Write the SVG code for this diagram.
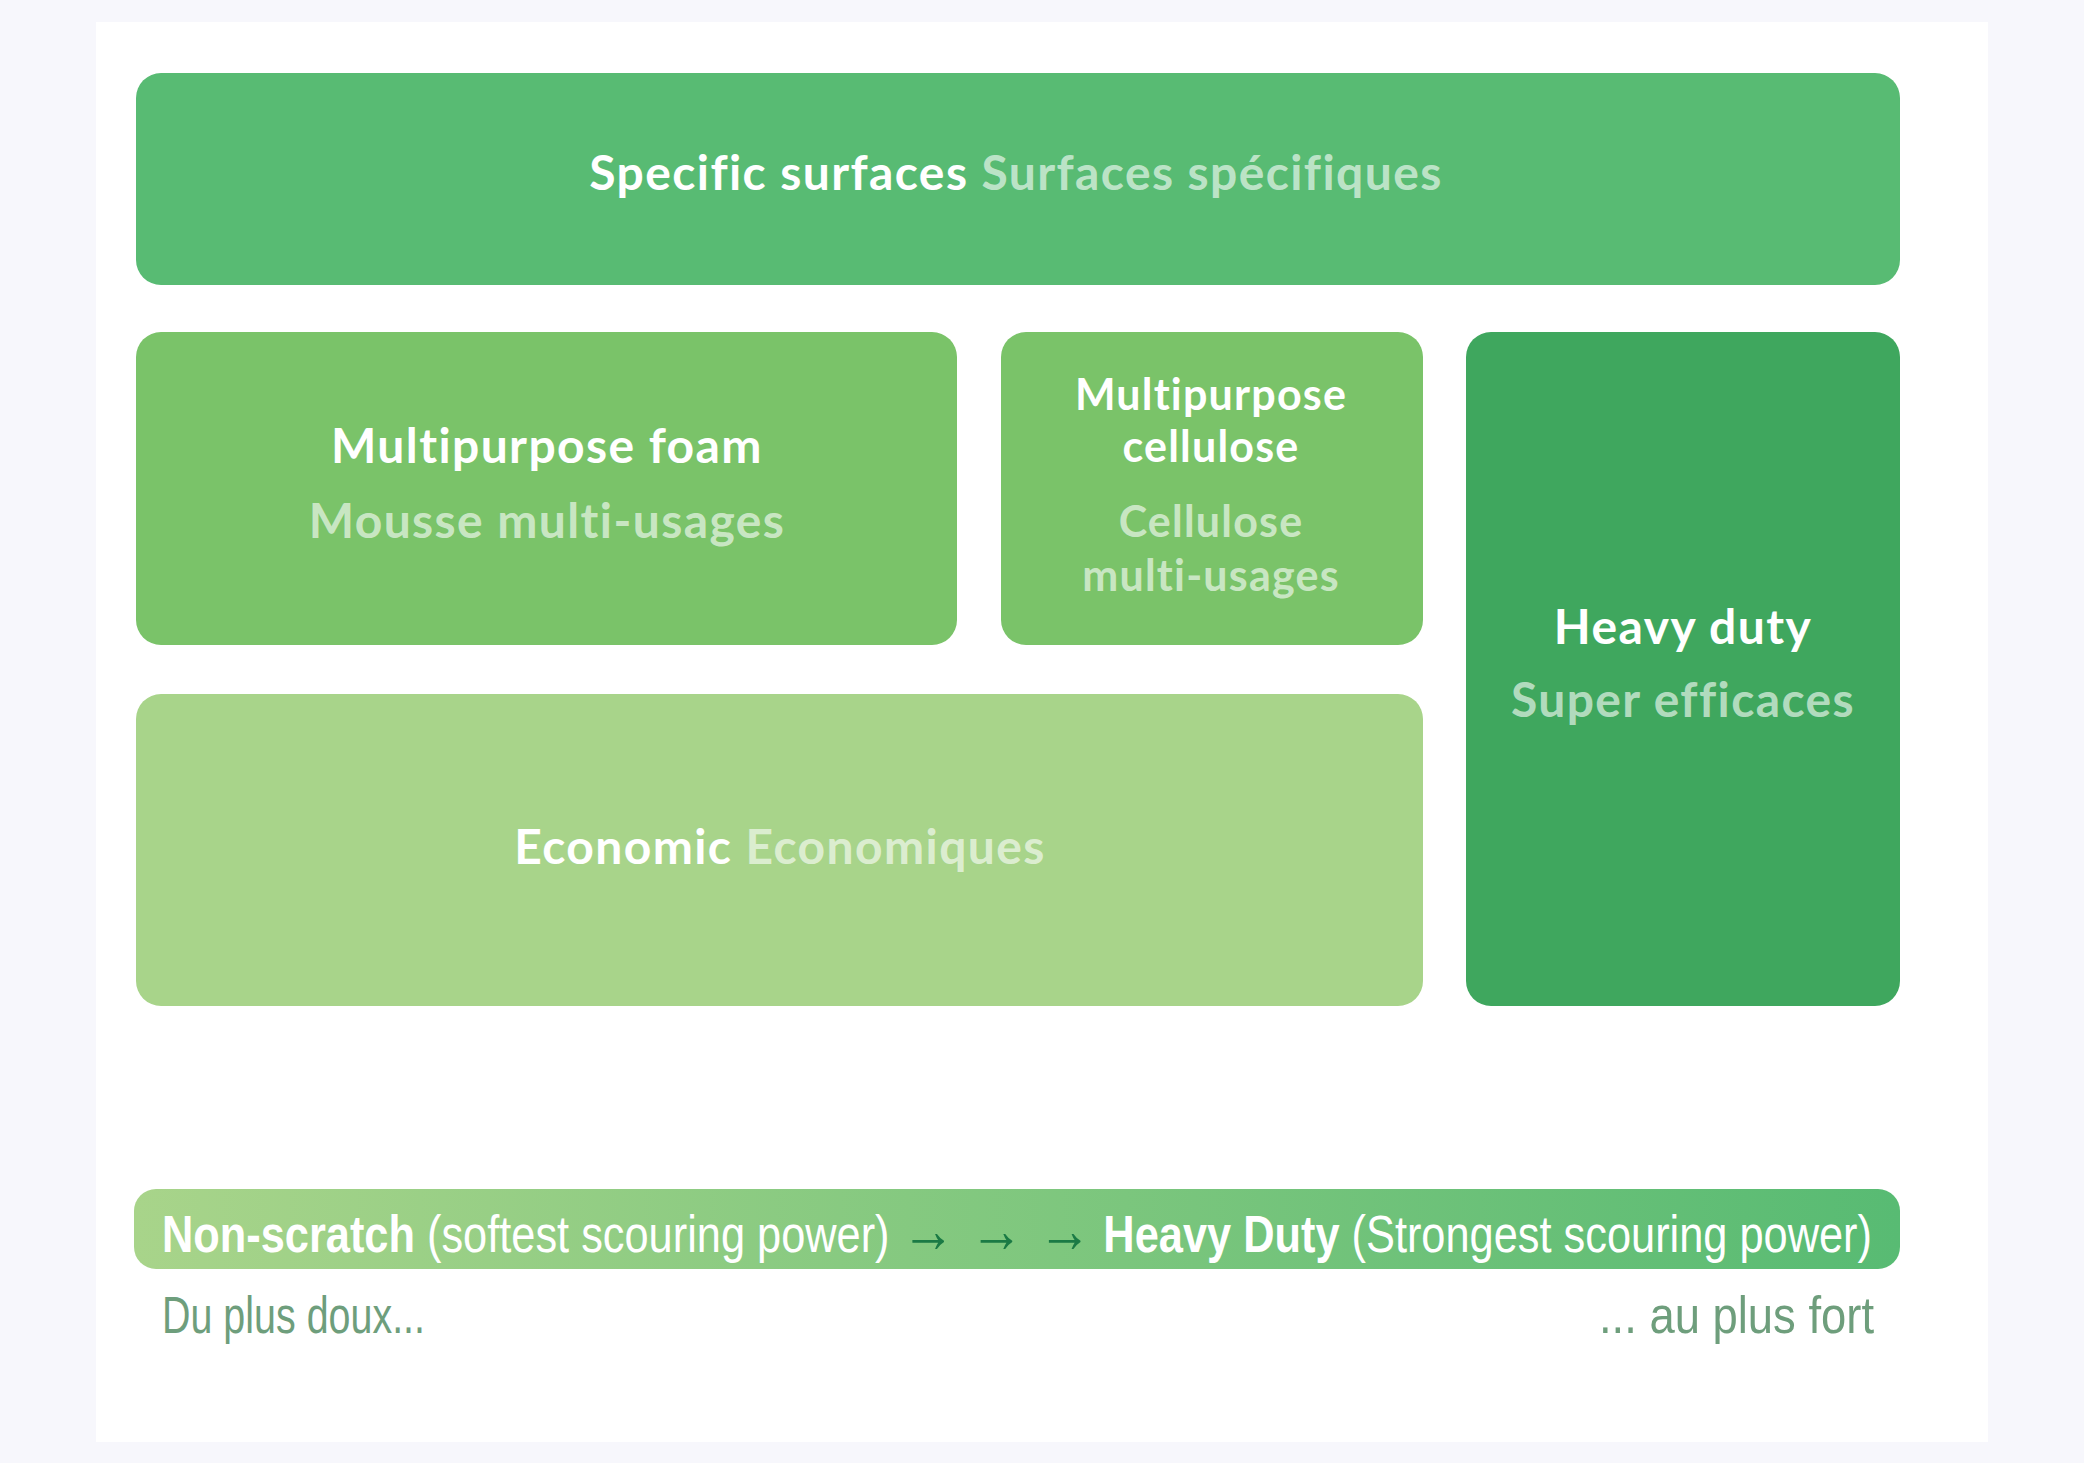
<svg xmlns="http://www.w3.org/2000/svg" width="2084" height="1463" viewBox="0 0 2084 1463">
  <defs>
    <linearGradient id="barGrad" x1="0" y1="0" x2="1" y2="0">
      <stop offset="0" stop-color="#A8D48A"/>
      <stop offset="1" stop-color="#58BB73"/>
    </linearGradient>
    <style>
      .lbl { font-family: Lato, "Open Sans", "Liberation Sans", sans-serif; font-weight: 700; font-size: 48px; letter-spacing: 1.4px; text-anchor: middle; }
      .sm { font-size: 43px; letter-spacing: 1.2px; }
      .en { fill: #FFFFFF; }
      .fr { fill: #FFFFFF; fill-opacity: 0.62; }
      .hand { font-family: "Liberation Sans", "DejaVu Sans", sans-serif; font-size: 52px; }
      .handw { fill: #FFFFFF; }
      .note { fill: #6E9E7C; }
      .arrow { fill: #1B7A45; font-size: 64px; }
    </style>
  </defs>
  <rect x="0" y="0" width="2084" height="1463" fill="#F7F7FC"/>
  <rect x="96" y="22" width="1892" height="1420" fill="#FFFFFF"/>

  <g id="specific-surfaces">
    <rect x="136" y="73" width="1764" height="212" rx="25" fill="#58BB73"/>
    <text class="lbl" x="1016" y="190"><tspan class="en">Specific surfaces</tspan> <tspan class="fr">Surfaces spécifiques</tspan></text>
  </g>

  <g id="multipurpose-foam">
    <rect x="136" y="332" width="821" height="313" rx="25" fill="#7AC369"/>
    <text class="lbl en" x="547" y="463">Multipurpose foam</text>
    <text class="lbl fr" x="547" y="538">Mousse multi-usages</text>
  </g>

  <g id="multipurpose-cellulose">
    <rect x="1001" y="332" width="422" height="313" rx="25" fill="#7AC369"/>
    <text class="lbl sm en" x="1211" y="410">Multipurpose</text>
    <text class="lbl sm en" x="1211" y="462">cellulose</text>
    <text class="lbl sm fr" x="1211" y="537">Cellulose</text>
    <text class="lbl sm fr" x="1211" y="591">multi-usages</text>
  </g>

  <g id="heavy-duty">
    <rect x="1466" y="332" width="434" height="674" rx="25" fill="#3FA75E"/>
    <text class="lbl en" x="1683" y="644">Heavy duty</text>
    <text class="lbl fr" x="1683" y="717">Super efficaces</text>
  </g>

  <g id="economic">
    <rect x="136" y="694" width="1287" height="312" rx="25" fill="#A8D48A"/>
    <text class="lbl" x="780" y="864"><tspan class="en">Economic</tspan> <tspan class="fr">Economiques</tspan></text>
  </g>

  <g id="scale-bar">
    <rect x="134" y="1189" width="1766" height="80" rx="22" fill="url(#barGrad)"/>
    <g transform="translate(162,1252) scale(0.834,1)">
      <text class="hand handw" x="0" y="0"><tspan font-weight="700">Non-scratch</tspan> (softest scouring power) <tspan class="arrow" font-weight="700">→ → →</tspan> <tspan font-weight="700">Heavy Duty</tspan> (Strongest scouring power)</text>
    </g>
  </g>

  <g id="scale-notes">
    <text class="hand note" x="162" y="1333" textLength="263" lengthAdjust="spacingAndGlyphs">Du plus doux...</text>
    <text class="hand note" x="1599" y="1333" textLength="275" lengthAdjust="spacingAndGlyphs">... au plus fort</text>
  </g>

  <g id="connectors"/>
</svg>
